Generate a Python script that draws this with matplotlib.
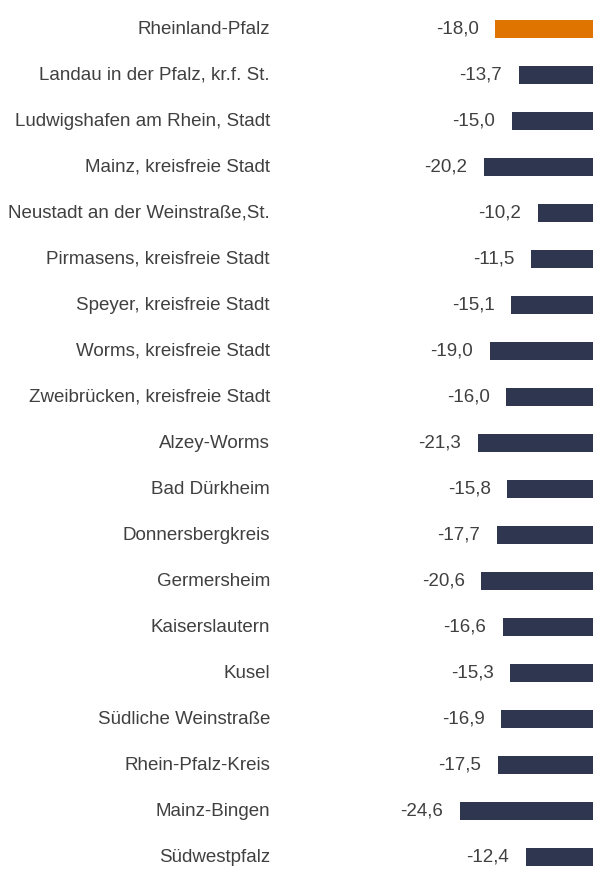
import matplotlib.pyplot as plt

regions = [
    "Rheinland-Pfalz",
    "Landau in der Pfalz, kr.f. St.",
    "Ludwigshafen am Rhein, Stadt",
    "Mainz, kreisfreie Stadt",
    "Neustadt an der Weinstraße,St.",
    "Pirmasens, kreisfreie Stadt",
    "Speyer, kreisfreie Stadt",
    "Worms, kreisfreie Stadt",
    "Zweibrücken, kreisfreie Stadt",
    "Alzey-Worms",
    "Bad Dürkheim",
    "Donnersbergkreis",
    "Germersheim",
    "Kaiserslautern",
    "Kusel",
    "Südliche Weinstraße",
    "Rhein-Pfalz-Kreis",
    "Mainz-Bingen",
    "Südwestpfalz",
]
changes = [-18.0, -13.7, -15.0, -20.2, -10.2, -11.5, -15.1, -19.0, -16.0,
           -21.3, -15.8, -17.7, -20.6, -16.6, -15.3, -16.9, -17.5, -24.6, -12.4]

W, H = 593, 873
plt.rcParams["font.family"] = ["Liberation Sans", "DejaVu Sans"]
fig = plt.figure(figsize=(W / 100, H / 100), dpi=100)

# plot area covers the right part of the figure; bars grow leftwards from 0
ax_left = 300
ax = fig.add_axes([ax_left / W, 0, 1 - ax_left / W, 1])
px_per_unit = 5.42
ax.set_xlim(-(W - ax_left) / px_per_unit, 0)
row_px = 46.0
first_px = 29.0
ax.set_ylim((H - first_px) / row_px, -first_px / row_px)
ax.axis("off")

text_color = "#404040"
fs = 13.5
for i, (name, val) in enumerate(zip(regions, changes)):
    color = "#E07400" if i == 0 else "#2E3650"
    ax.barh(i, val, height=0.40, color=color)
    ax.annotate(f"{val:.1f}".replace(".", ","), xy=(val, i), xytext=(-12, 0),
                textcoords="offset points", ha="right", va="center",
                fontsize=fs, color=text_color)
    fig.text(270 / W, 1 - (first_px + row_px * i) / H, name, ha="right",
             va="center", fontsize=fs, color=text_color)

fig.savefig("out.png", dpi=100)
